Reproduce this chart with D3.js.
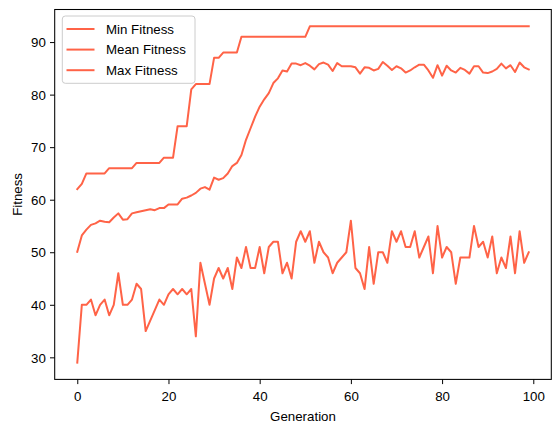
<!DOCTYPE html>
<html>
<head>
<meta charset="utf-8">
<script src="https://cdn.jsdelivr.net/npm/d3@7/dist/d3.min.js"></script>
<style>
  html, body { margin: 0; padding: 0; background: #fff; }
  svg { display: block; }
  text { font-family: "Liberation Sans", Arial, sans-serif; fill: #000; }
</style>
</head>
<body>
<svg id="chart" width="560" height="432"></svg>
<script>
// ---- data ----
const generations = d3.range(0, 100);
const minFitness = [29,40,40,41,38,40,41,38,40,46,40,40,41,44,43,35,37,39,41,40,
  42,43,42,43,42,43,34,48,44,40,45,47,45,47,43,49,47,51,47,47,
  51,46,51,52,52,46,48,45,52,54,52,54,48,52,50,49,46,48,49,50,
  56,47,46,43,51,44,50,50,48,54,52,54,51,51,54,49,51,53,46,55,
  49,51,50,44,49,49,49,55,51,52,49,53,46,49,47,53,46,54,48,50];
const meanFitness = [50.1,53.2,54.3,55.2,55.5,56.0,55.8,55.7,56.6,57.4,56.2,56.3,57.4,57.6,57.8,58.0,58.2,58.0,58.4,58.4,
  59.1,59.1,59.1,60.2,60.4,60.8,61.3,62.1,62.4,61.9,64.2,63.8,64.1,65.0,66.4,67.0,68.5,71.4,73.6,75.8,
  77.7,79.1,80.3,82.2,83.1,84.6,84.4,85.9,85.9,85.6,86.0,85.5,84.8,85.8,86.1,85.7,84.5,86.0,85.4,85.4,
  85.4,85.2,84.0,85.2,85.1,84.6,84.9,86.2,85.5,84.7,85.4,85.0,84.2,84.6,85.2,85.7,85.7,84.6,83.2,85.6,
  83.6,85.5,84.6,84.2,85.1,84.7,84.0,85.4,85.4,84.2,84.1,84.4,84.9,85.9,85.0,85.6,84.3,86.1,85.2,84.8];
const maxFitness = [62,63,65,65,65,65,65,66,66,66,66,66,66,67,67,67,67,67,67,68,
  68,68,74,74,74,81,82,82,82,82,87,87,88,88,88,88,91,91,91,91,
  91,91,91,91,91,91,91,91,91,91,91,93,93,93,93,93,93,93,93,93,
  93,93,93,93,93,93,93,93,93,93,93,93,93,93,93,93,93,93,93,93,
  93,93,93,93,93,93,93,93,93,93,93,93,93,93,93,93,93,93,93,93];
const xTicks = [0,20,40,60,80,100];
const yTicks = [30,40,50,60,70,80,90];
const seriesNames = ["Min Fitness","Mean Fitness","Max Fitness"];
const xLabel = "Generation";
const yLabel = "Fitness";

// ---- layout ----
const L = 54.7, R = 551.3, T = 9.5, B = 379.4;
const color = "#ff6347";
const fontSize = 13.3;

const svg = d3.select("#chart");
const x = d3.scaleLinear().domain([-4.95, 103.95]).range([L, R]);
const y = d3.scaleLinear().domain([25.8, 96.2]).range([B, T]);

// axes
const xAxis = d3.axisBottom(x).tickValues(xTicks).tickSize(4.7).tickPadding(4);
const yAxis = d3.axisLeft(y).tickValues(yTicks).tickSize(4.7).tickPadding(4.2);

const gx = svg.append("g").attr("transform", `translate(0,${B})`).call(xAxis);
const gy = svg.append("g").attr("transform", `translate(${L},0)`).call(yAxis);
[gx, gy].forEach(g => {
  g.select(".domain").remove();
  g.selectAll(".tick line").attr("stroke", "#000").attr("stroke-width", 1);
  g.selectAll(".tick text").attr("font-size", fontSize)
    .attr("font-family", '"Liberation Sans", Arial, sans-serif').attr("fill", "#000");
});
gx.selectAll(".tick text").attr("dy", null).attr("y", 0).attr("transform", "translate(0,21.3)");
gy.selectAll(".tick text").attr("dy", "0.355em");

// lines
const line = d3.line().x((d, i) => x(generations[i])).y(d => y(d));
[minFitness, meanFitness, maxFitness].forEach(s => {
  svg.append("path").datum(s).attr("d", line)
    .attr("fill", "none").attr("stroke", color).attr("stroke-width", 2)
    .attr("stroke-linejoin", "round").attr("stroke-linecap", "square");
});

// frame
svg.append("rect").attr("x", L).attr("y", T).attr("width", R - L).attr("height", B - T)
  .attr("fill", "none").attr("stroke", "#000").attr("stroke-width", 1.05);

// axis labels
svg.append("text").attr("x", (L + R) / 2).attr("y", 421).attr("text-anchor", "middle")
  .attr("font-size", fontSize).text(xLabel);
svg.append("text").attr("transform", `translate(21.5,${(T + B) / 2}) rotate(-90)`)
  .attr("text-anchor", "middle").attr("font-size", fontSize).text(yLabel);

// legend
const lg = svg.append("g");
lg.append("rect").attr("x", 62.3).attr("y", 16).attr("width", 132.7).attr("height", 67.3)
  .attr("rx", 3).attr("fill", "#fff").attr("fill-opacity", 0.8)
  .attr("stroke", "#cccccc").attr("stroke-width", 1);
seriesNames.forEach((name, i) => {
  const cy = 29 + i * 20.6;
  lg.append("line").attr("x1", 66.5).attr("x2", 94.5).attr("y1", cy).attr("y2", cy)
    .attr("stroke", color).attr("stroke-width", 2);
  lg.append("text").attr("x", 106).attr("y", cy + 4.8).attr("font-size", fontSize).text(name);
});
</script>
</body>
</html>
